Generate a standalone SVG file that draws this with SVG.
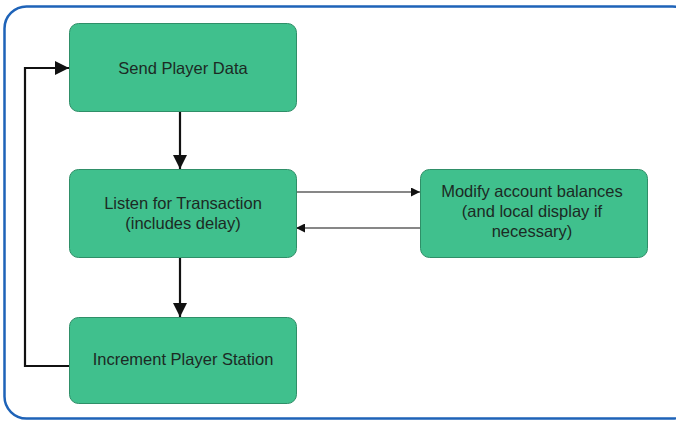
<svg xmlns="http://www.w3.org/2000/svg" width="676" height="423" viewBox="0 0 676 423">
<style>
.box{fill:#40c08d;stroke:#2f8f68;stroke-width:1}
.t{font-family:"Liberation Sans",Arial,sans-serif;font-size:16.5px;fill:#1c2a24;text-anchor:middle}
.thick{stroke:#111;stroke-width:2.2;fill:none}
.thin{stroke:#111;stroke-width:1.2;fill:none}
</style>
<defs>
<marker id="ah" viewBox="0 0 10 10" refX="10" refY="5" markerWidth="7" markerHeight="7" markerUnits="userSpaceOnUse" orient="auto"><path d="M0,0 L10,5 L0,10 z" fill="#111"/></marker>
<marker id="ahb" viewBox="0 0 10 10" refX="10" refY="5" markerWidth="14" markerHeight="14" markerUnits="userSpaceOnUse" orient="auto"><path d="M0,0 L10,5 L0,10 z" fill="#111"/></marker>
<marker id="ahs" viewBox="0 0 10 10" refX="10" refY="5" markerWidth="9" markerHeight="9" markerUnits="userSpaceOnUse" orient="auto"><path d="M0,0 L10,5 L0,10 z" fill="#111"/></marker>
</defs>
<rect x="0" y="0" width="676" height="423" fill="#fff"/>
<rect x="4.5" y="6.5" width="690" height="412" rx="22" fill="none" stroke="#1e63b8" stroke-width="2.5"/>
<g id="connectors">
<path class="thick" d="M180,111 V169" marker-end="url(#ahb)"/>
<path class="thick" d="M180,257 V317" marker-end="url(#ahb)"/>
<path class="thick" d="M69,366 H25 V68 H69" marker-end="url(#ahb)"/>
<path class="thin" d="M296,192 H420" marker-end="url(#ahs)"/>
<path class="thin" d="M420,228 H296" marker-end="url(#ahs)"/>
</g>
<g id="send">
<rect class="box" x="69.5" y="23.5" width="227" height="88" rx="9"/>
<text class="t" x="183" y="74">Send Player Data</text>
</g>
<g id="listen">
<rect class="box" x="69.5" y="169.5" width="227" height="88" rx="9"/>
<text class="t" x="183" y="209">Listen for Transaction</text>
<text class="t" x="183" y="229">(includes delay)</text>
</g>
<g id="increment">
<rect class="box" x="69.5" y="317.5" width="227" height="86" rx="9"/>
<text class="t" x="183" y="365">Increment Player Station</text>
</g>
<g id="modify">
<rect class="box" x="420.5" y="169.5" width="227" height="88" rx="9"/>
<text class="t" x="532" y="197">Modify account balances</text>
<text class="t" x="532" y="217">(and local display if</text>
<text class="t" x="532" y="237">necessary)</text>
</g>
</svg>
